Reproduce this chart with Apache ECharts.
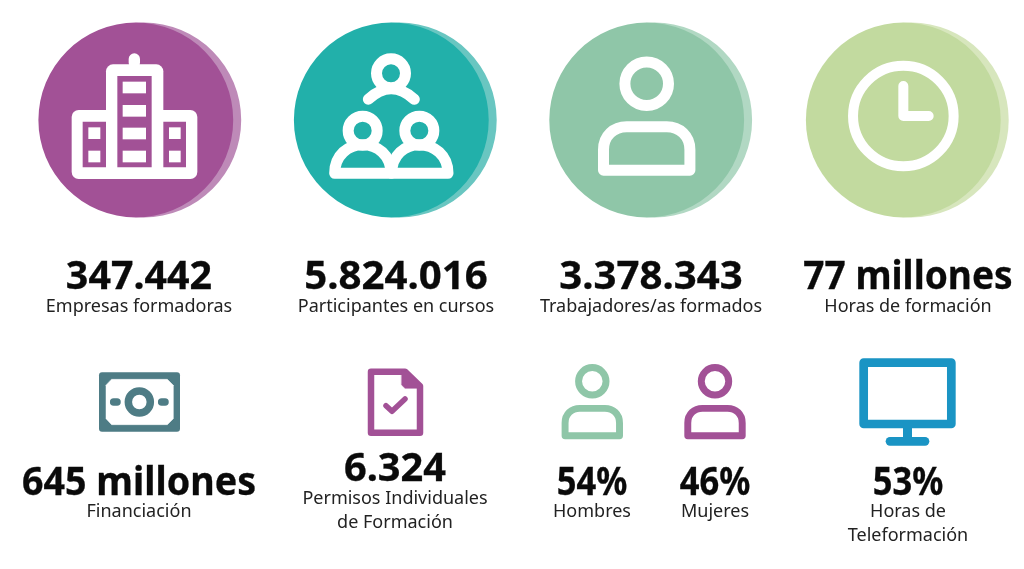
<!DOCTYPE html>
<html>
<head>
  <meta charset="utf-8" />
  <title>Formación</title>
  <style>html, body { margin: 0; background: #fff; } #main { width: 1024px; height: 569px; }</style>
</head>
<body>
  <div id="main"></div>
  <script src="https://cdn.jsdelivr.net/npm/echarts@6/dist/echarts.min.js"></script>
  <script type="text/javascript">
    var topValues = ['347.442', '5.824.016', '3.378.343', '77 millones'];
    var topLabels = ['Empresas formadoras', 'Participantes en cursos', 'Trabajadores/as formados', 'Horas de formación'];
    var bottomValues = ['645 millones', '6.324', '54%', '46%', '53%'];
    var bottomLabels = [['Financiación'], ['Permisos Individuales', 'de Formación'], ['Hombres'], ['Mujeres'], ['Horas de', 'Teleformación']];

    var PURPLE = '#a25196', TEAL = '#22b0aa', GREEN = '#8fc6a8', LIME = '#c2da9f';
    var SLATE = '#4e7c85', BLUE = '#1a94c4';
    var FONT = '"Noto Sans", sans-serif';

    var els = [];

    // the icons were measured on 3x crops, frame turns crop coords to page coords
    function frame(ox, oy) {
        return {
            x: function(v) { return v / 3 + ox; },
            y: function(v) { return v / 3 + oy; },
            path: function(d) {
                return d.replace(/(-?\d+\.?\d*) (-?\d+\.?\d*)/g, function(m, a, b) {
                    return (a / 3 + ox) + ' ' + (b / 3 + oy);
                });
            }
        };
    }

    function box(f, x0, y0, x1, y1, fill, r) {
        els.push({type: 'rect', shape: {x: f.x(x0), y: f.y(y0), width: (x1 - x0) / 3, height: (y1 - y0) / 3, r: r || 0}, style: {fill: fill}});
    }

    function ring(cx, cy, r, lw, color) {
        els.push({type: 'circle', shape: {cx: cx, cy: cy, r: r}, style: {fill: 'none', stroke: color, lineWidth: lw}});
    }

    function line(d, lw, color, fill) {
        els.push({type: 'path', shape: {pathData: d}, style: {fill: fill || 'none', stroke: color, lineWidth: lw, lineCap: 'round', lineJoin: 'round'}});
    }

    function disc(cx, cy, r, dark, light) {
        els.push({type: 'circle', shape: {cx: cx + 8, cy: cy, r: r}, style: {fill: light}});
        els.push({type: 'circle', shape: {cx: cx, cy: cy, r: r}, style: {fill: dark}});
    }

    function label(text, cx, baseline, size, color, sx, heavy) {
        els.push({type: 'text', x: cx, y: baseline, scaleX: sx || 1,
            style: {text: text, x: 0, y: 0, align: 'center', verticalAlign: 'bottom', fontFamily: FONT, fontSize: size,
                fontWeight: heavy ? 'bold' : 'normal', fill: color, stroke: heavy ? color : 'none', lineWidth: heavy ? 0.3 : 0}});
    }

    function person(cx, cy, k, color) {
        ring(cx, cy, 21.8 * k, 11 * k, color);
        var x = function(v) { return cx + v * k; }, y = function(v) { return cy + v * k; };
        line('M' + x(-43.2) + ' ' + y(86.5) + ' V' + y(66) + ' C' + x(-43.2) + ' ' + y(52) + ' ' + x(-33) + ' ' + y(43) + ' ' + x(-20) + ' ' + y(43) +
             ' H' + x(20) + ' C' + x(33) + ' ' + y(43) + ' ' + x(43.2) + ' ' + y(52) + ' ' + x(43.2) + ' ' + y(66) + ' V' + y(86.5) + ' Z', 11 * k, color);
    }

    function building() {
        var f = frame(20, 10);
        box(f, 326, 130, 360, 175, '#fff', 6);
        box(f, 258, 163, 430, 507, '#fff', 7);
        box(f, 155, 300, 532, 507, '#fff', 7);
        box(f, 292, 198, 395, 472, PURPLE);
        box(f, 188, 335, 258, 472, PURPLE);
        box(f, 430, 335, 498, 472, PURPLE);
        [215, 285, 353, 422].forEach(function(y) { box(f, 308, y, 378, y + 35, '#fff'); });
        [352, 422].forEach(function(y) {
            box(f, 205, y, 241, y + 35, '#fff');
            box(f, 447, y, 482, y + 35, '#fff');
        });
    }

    function group() {
        var f = frame(20, 10);
        line(f.path('M1045 268 Q1113 205 1183 268'), 11, '#fff');
        line(f.path('M944 490 C944 435 985 404 1028 404 C1072 404 1113 435 1113 490 Z'), 11, '#fff');
        line(f.path('M1115 490 C1115 435 1155 404 1198 404 C1242 404 1284 435 1284 490 Z'), 11, '#fff');
        [[1113, 190], [1028, 362], [1198, 362]].forEach(function(h) {
            ring(f.x(h[0]), f.y(h[1]), 14.5, 11, '#fff');
        });
    }

    function clock() {
        var f = frame(530, 10);
        ring(f.x(1120), f.y(318), 50.3, 10, '#fff');
        line(f.path('M1120 228 L1120 318 L1196 318'), 10, '#fff');
    }

    function money() {
        var f = frame(80, 350);
        box(f, 57, 67, 300, 245, SLATE, 3);
        line(f.path('M95 88 L262 88 L280 106 L280 206 L262 224 L95 224 L78 206 L78 106 Z'), 0.5, '#fff', '#fff');
        ring(f.x(178), f.y(156), 11, 7.5, SLATE);
        line(f.path('M101 156 L111 156'), 7.5, SLATE);
        line(f.path('M245 156 L255 156'), 7.5, SLATE);
    }

    function doc() {
        var f = frame(80, 350);
        line(f.path('M873 65 L975 65 L1020 108 L1020 248 L873 248 Z'), 6.5, PURPLE);
        line(f.path('M965 62 L980 62 L1025 106 L1025 115 L975 115 L965 105 Z'), 0.5, PURPLE, PURPLE);
        line(f.path('M918 167 L936 184 L975 147'), 5.5, PURPLE);
    }

    function monitor() {
        var f = frame(540, 350);
        box(f, 1089, 230, 1116, 270, BLUE);
        box(f, 1037, 261, 1168, 287, BLUE, 4.3);
        line(f.path('M971 38 L1234 38 L1234 222 L971 222 Z'), 8.7, BLUE);
    }

    disc(135.8, 120, 97.4, PURPLE, '#be8ab8');
    disc(391.3, 120, 97.4, TEAL, '#69c6c1');
    disc(646.7, 120, 97.4, GREEN, '#b1d8c3');
    disc(903.3, 120, 97.4, LIME, '#d7e6bd');
    building();
    group();
    person(646.7, 83.7, 1, '#fff');
    clock();
    money();
    doc();
    person(592.3, 381.3, 0.63, GREEN);
    person(715, 381.3, 0.63, PURPLE);
    monitor();

    var topX = [139, 396, 651, 908];
    var topSquash = [1.01, 1.03, 1.03, 0.95];
    topValues.forEach(function(v, i) {
        label(v, topX[i], 297, 39, '#0a0a0a', topSquash[i], true);
        label(topLabels[i], topX[i], 316, 18, '#222');
    });
    var bottomX = [139, 395, 592, 715, 908];
    var bottomBase = [503, 489, 503, 503, 503];
    var bottomText = [521, 508, 521, 521, 521];
    var bottomSquash = [0.965, 1.02, 0.885, 0.885, 0.885];
    bottomValues.forEach(function(v, i) {
        label(v, bottomX[i], bottomBase[i], 39, '#0a0a0a', bottomSquash[i], true);
        bottomLabels[i].forEach(function(t, j) {
            label(t, bottomX[i], bottomText[i] + j * 24, 18, '#222');
        });
    });

    var myChart = echarts.init(document.getElementById('main'), null, {renderer: 'canvas'});
    myChart.setOption({
        backgroundColor: '#fff',
        animation: false,
        series: [{
            type: 'custom',
            coordinateSystem: 'none',
            silent: true,
            data: [0],
            renderItem: function() { return {type: 'group', children: els}; }
        }]
    });
  </script>
</body>
</html>
